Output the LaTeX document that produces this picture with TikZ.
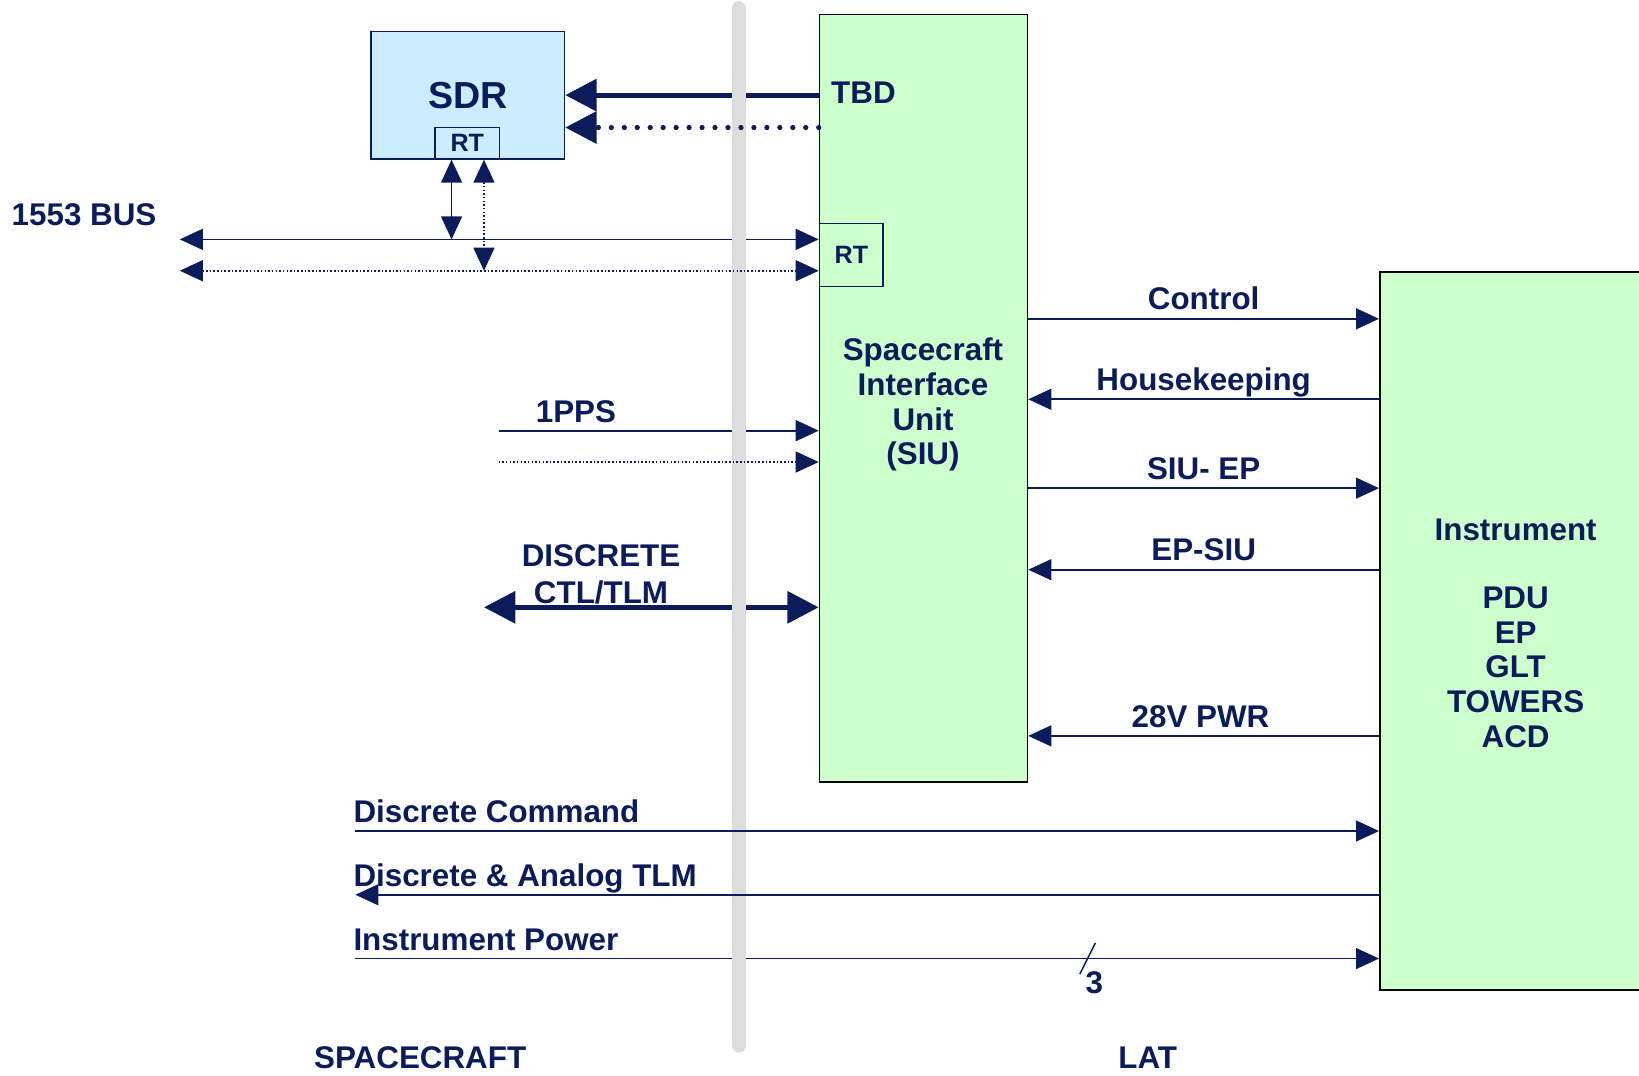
\documentclass[tikz,border=0pt]{standalone}
\usepackage{fontspec}
\setmainfont{Liberation Sans}
\usetikzlibrary{arrows.meta}
\definecolor{navy}{RGB}{12,28,90}
\definecolor{sdrblue}{RGB}{204,236,255}
\definecolor{siugreen}{RGB}{204,255,204}
\definecolor{bargray}{RGB}{221,221,221}

\begin{document}
\begin{tikzpicture}[
  x=1pt, y=-1pt,
  every node/.style={font=\fontsize{30}{33.3}\selectfont\bfseries, text=navy, inner sep=0pt},
  sdrbox/.style={rectangle, draw=navy, line width=1.5pt, fill=sdrblue, minimum width=185pt, minimum height=122pt, font=\fontsize{36}{40}\selectfont\bfseries},
  rtbox/.style={rectangle, draw=navy, line width=1.5pt, font=\fontsize{24}{28}\selectfont\bfseries},
  greenbox/.style={rectangle, draw=black, line width=1.5pt, fill=siugreen},
  wire/.style={draw=navy, line width=1.6pt},
  dotwire/.style={wire, dash pattern=on 1.5pt off 2pt},
  fatwire/.style={draw=navy, line width=5pt},
  tip/.style={-{Triangle[length=22pt,width=20pt]}},
  tips/.style={{Triangle[length=22pt,width=20pt]}-{Triangle[length=22pt,width=20pt]}},
  bigtip/.style={-{Triangle[length=30pt,width=30pt]}},
  bigtips/.style={{Triangle[length=30pt,width=30pt]}-{Triangle[length=30pt,width=30pt]}},
  lbl/.style={anchor=base, yshift=8.5pt}
]
\clip (0,0) rectangle (1568,1029);

% Boxes
\node[sdrbox] (sdr) at (447.5,91) {SDR};
\node[rtbox, fill=sdrblue, minimum width=62pt, minimum height=30pt] (sdrrt) at (447,137) {RT};
\node[greenbox, minimum width=199pt, minimum height=734pt] (siu) at (883.5,381) {};
\node[rtbox, minimum width=61pt, minimum height=60pt] (siurt) at (814.5,244) {RT};
\node[greenbox, minimum width=280pt, minimum height=687pt] (inst) at (1460,603.5) {};

\node[align=center] (siutext) at (883,387) {Spacecraft\\Interface\\Unit\\(SIU)};
\node[anchor=base] (insttitle) at (1450,517) {Instrument};
\node[align=center, anchor=north] (instlist) at (1450,561) {PDU\\EP\\GLT\\TOWERS\\ACD};

% Coordinates
\coordinate (tbd) at (0,91);
\coordinate (tbdd) at (0,122);
\coordinate (busL) at (172,229);
\coordinate (busLd) at (172,259);
\coordinate (tap) at (432,229);
\coordinate (tapd) at (463,259);
\coordinate (pps) at (477,412);
\coordinate (ppsd) at (477,442);
\coordinate (dsc) at (463,581);
\coordinate (ctl) at (0,305);
\coordinate (hk) at (0,382);
\coordinate (siuep) at (0,467);
\coordinate (epsiu) at (0,545);
\coordinate (pwr) at (0,704);
\coordinate (dcmd) at (340,795);
\coordinate (dtlm) at (340,856);
\coordinate (ipwr) at (340,917);

% Lines under the boundary
\draw[fatwire, bigtip] (siu.west |- tbd) -- (sdr.east |- tbd);
\draw[wire, tips] (busL) -- (siu.west |- busL);
\draw[wire, tip] (pps) -- (siu.west |- pps);
\draw[fatwire, bigtips] (dsc) -- (siu.west |- dsc);
\draw[wire, tip] (ipwr) -- (inst.west |- ipwr);

% Spacecraft / LAT boundary
\draw[bargray, line width=14pt, line cap=round] (707,8) -- (707,1000);

% Lines over the boundary
\draw[fatwire, bigtip, line width=5pt, dash pattern=on 0pt off 12.4pt, line cap=round] (siu.west |- tbdd) -- (sdr.east |- tbdd);
\draw[dotwire, tips] (busLd) -- (siu.west |- busLd);
\draw[wire, tips] (tap |- sdr.south) -- (tap);
\draw[dotwire, tips] (tapd |- sdr.south) -- (tapd);
\draw[dotwire, tip] (ppsd) -- (siu.west |- ppsd);
\draw[wire, tip] (dcmd) -- (inst.west |- dcmd);
\draw[wire, tip] (inst.west |- dtlm) -- (dtlm);

% SIU to Instrument
\draw[wire, tip] (siu.east |- ctl) -- node[lbl] {Control} (inst.west |- ctl);
\draw[wire, tip] (inst.west |- hk) -- node[lbl] {Housekeeping} (siu.east |- hk);
\draw[wire, tip] (siu.east |- siuep) -- node[lbl] {SIU- EP} (inst.west |- siuep);
\draw[wire, tip] (inst.west |- epsiu) -- node[lbl] {EP-SIU} (siu.east |- epsiu);
\draw[wire, tip] (inst.west |- pwr) -- node[lbl, xshift=-3pt] {28V PWR} (siu.east |- pwr);

% Labels
\node[anchor=base west] (tbdlabel) at (795,99) {TBD};
\node[anchor=base west] (buslabel) at (11,216) {1553 BUS};
\node[anchor=base] (ppslabel) at (551,404) {1PPS};
\node[anchor=base] (dsclabel) at (575,542) {DISCRETE};
\node[anchor=base] (dsclabel2) at (575,577) {CTL/TLM};
\node[anchor=base west] (dcmdlabel) at (338,787) {Discrete Command};
\node[anchor=base west] (dtlmlabel) at (338,848) {Discrete \& Analog TLM};
\node[anchor=base west] (ipwrlabel) at (338,909) {Instrument Power};

% Three-wire mark
\draw[wire, line width=1.4pt] (1033,932) -- (1048,902);
\node[anchor=base] (three) at (1047,950) {3};

% Sides
\node[anchor=base] (sclabel) at (402,1022) {SPACECRAFT};
\node[anchor=base] (latlabel) at (1098,1022) {LAT};

\end{tikzpicture}
\end{document}
